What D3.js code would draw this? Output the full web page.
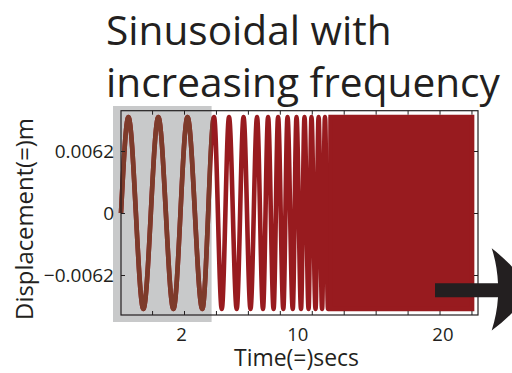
<!DOCTYPE html>
<html>
<head>
<meta charset="utf-8">
<script src="https://cdn.jsdelivr.net/npm/d3@7"></script>
<style>
  body { margin: 0; background: #fff; }
  svg { display: block; }
  text { font-family: 'Open Sans', sans-serif; fill: #231f20; }
</style>
</head>
<body>
<div id="chart"></div>
<script>
// --- data ---
const titleLines = ['Sinusoidal with', 'increasing frequency'];
const xLabel = 'Time(=)secs';
const yLabel = 'Displacement(=)m';
const xTickLabels = [2, 10, 20];
const xMinorTicks = [0, 2.2, 4.4, 6.6, 8.8, 11, 13.2, 15.4, 17.6, 19.8, 22];
const yTickValues = [-0.0062, 0, 0.0062];

const amplitude = 0.0096;
const startTime = -2.14;
const peakTimes = [-1.63, 0.43, 2.44, 4.27, 5.30, 6.30, 7.23, 7.99, 8.68, 9.33, 9.95, 10.50, 10.98, 11.47, 11.91, 12.33];
const troughTimes = [-0.60, 1.47, 3.46, 4.80, 5.83, 6.78, 7.64, 8.37, 9.04, 9.69, 10.26, 10.78, 11.26, 11.71, 12.12];
// span where the cycles are too dense to separate
const denseSpan = [12.3, 22.04];
// shaded window at the start of the signal
const highlightTimes = [-2.69, 4.10];
const highlightValues = [-0.0109, 0.0107];

const width = 512, height = 373;
const plot = { left: 121, right: 478, top: 110.7, bottom: 315 };
const red = '#981b1f', brown = '#7d3b2b', ink = '#231f20';

const svg = d3.select('#chart').append('svg')
  .attr('width', width)
  .attr('height', height);

const x = d3.scaleLinear().domain([-2.14, 22.45]).range([plot.left, plot.right]);
const y = d3.scaleLinear().domain([-0.0102, 0.01023]).range([plot.bottom, plot.top]);

// shrink or grow a text until it has the wanted width
function fitWidth(sel, w) {
  const fs = parseFloat(sel.attr('font-size'));
  sel.attr('font-size', fs * w / sel.node().getComputedTextLength());
  return parseFloat(sel.attr('font-size'));
}

// Title, two lines
const t2 = svg.append('text').attr('x', 106).attr('y', 96.7).attr('font-size', 40).text(titleLines[1]);
const titleSize = fitWidth(t2, 394);
svg.append('text').attr('x', 106).attr('y', 45).attr('font-size', titleSize).text(titleLines[0]);

// Gray highlight behind the first cycles
svg.append('rect')
  .attr('x', x(highlightTimes[0]))
  .attr('y', y(highlightValues[1]))
  .attr('width', x(highlightTimes[1]) - x(highlightTimes[0]))
  .attr('height', y(highlightValues[0]) - y(highlightValues[1]))
  .attr('fill', '#c8c9ca');

svg.append('clipPath').attr('id', 'hl')
  .append('rect')
  .attr('x', x(highlightTimes[0]))
  .attr('y', 0)
  .attr('width', x(highlightTimes[1]) - x(highlightTimes[0]))
  .attr('height', height);

// Extrema in time order
const points = [{ t: startTime, v: 0 }]
  .concat(peakTimes.map(t => ({ t, v: amplitude })))
  .concat(troughTimes.map(t => ({ t, v: -amplitude })))
  .sort((a, b) => a.t - b.t);

const line = d3.line()
  .x(d => x(d.t))
  .y(d => y(d.v))
  .curve(d3.curveMonotoneX);

svg.append('path')
  .datum(points)
  .attr('d', line)
  .attr('fill', 'none')
  .attr('stroke', red)
  .attr('stroke-width', 4.6)
  .attr('stroke-linejoin', 'round');

svg.append('path')
  .datum(points)
  .attr('d', line)
  .attr('clip-path', 'url(#hl)')
  .attr('fill', 'none')
  .attr('stroke', brown)
  .attr('stroke-width', 4.6)
  .attr('stroke-linejoin', 'round');

// Dense part reads as a solid band
const area = d3.area()
  .x(d => x(d))
  .y0(y(-amplitude))
  .y1(y(amplitude));

svg.append('path')
  .datum(denseSpan)
  .attr('d', area)
  .attr('fill', red)
  .attr('stroke', red)
  .attr('stroke-width', 4.6);

// Axes: inward ticks on all four sides
function styleAxis(g) {
  g.select('.domain').remove();
  g.selectAll('line').attr('stroke', ink).attr('stroke-width', 1);
}

svg.append('g')
  .attr('transform', `translate(0,${plot.bottom})`)
  .call(d3.axisBottom(x).tickValues(xMinorTicks).tickSize(-4).tickFormat(''))
  .call(styleAxis);

svg.append('g')
  .attr('transform', `translate(0,${plot.top})`)
  .call(d3.axisTop(x).tickValues(xMinorTicks).tickSize(-4).tickFormat(''))
  .call(styleAxis);

const xLab = svg.append('g')
  .attr('transform', `translate(0,${plot.bottom})`)
  .call(d3.axisBottom(x).tickValues(xTickLabels).tickSize(0).tickPadding(12.6))
  .call(styleAxis);
xLab.attr('font-family', null).attr('font-size', null);
xLab.selectAll('text').attr('font-size', 18.5).attr('fill', ink);

const fmt = d => d === 0 ? '0' : (d < 0 ? '\u2212' : '') + Math.abs(d).toFixed(4);
const yAx = svg.append('g')
  .attr('transform', `translate(${plot.left},0)`)
  .call(d3.axisLeft(y).tickValues(yTickValues).tickSize(-4).tickPadding(7).tickFormat(fmt))
  .call(styleAxis);
yAx.attr('font-family', null).attr('font-size', null);
yAx.selectAll('text').attr('font-size', 19).attr('fill', ink);

svg.append('g')
  .attr('transform', `translate(${plot.right},0)`)
  .call(d3.axisRight(y).tickValues(yTickValues).tickSize(-4).tickFormat(''))
  .call(styleAxis);

// Frame
svg.append('rect')
  .attr('x', plot.left)
  .attr('y', plot.top)
  .attr('width', plot.right - plot.left)
  .attr('height', plot.bottom - plot.top)
  .attr('fill', 'none')
  .attr('stroke', ink)
  .attr('stroke-width', 1.2);

// Axis titles
const xt = svg.append('text')
  .attr('x', 296.5).attr('y', 366)
  .attr('text-anchor', 'middle')
  .attr('font-size', 22)
  .text(xLabel);
fitWidth(xt, 125);

const yt = svg.append('text')
  .attr('transform', 'translate(33,219) rotate(-90)')
  .attr('text-anchor', 'middle')
  .attr('font-size', 28)
  .text(yLabel);
fitWidth(yt, 202);

// Arrow pointing off the right edge
svg.append('path')
  .attr('d', 'M435,283.3 L498,283.3 Q497,264 491.7,248.3 Q512,264 532,290 Q512,316 491.7,330.5 Q497,314 498,297.3 L435,297.3 Z')
  .attr('fill', ink);
</script>
</body>
</html>
